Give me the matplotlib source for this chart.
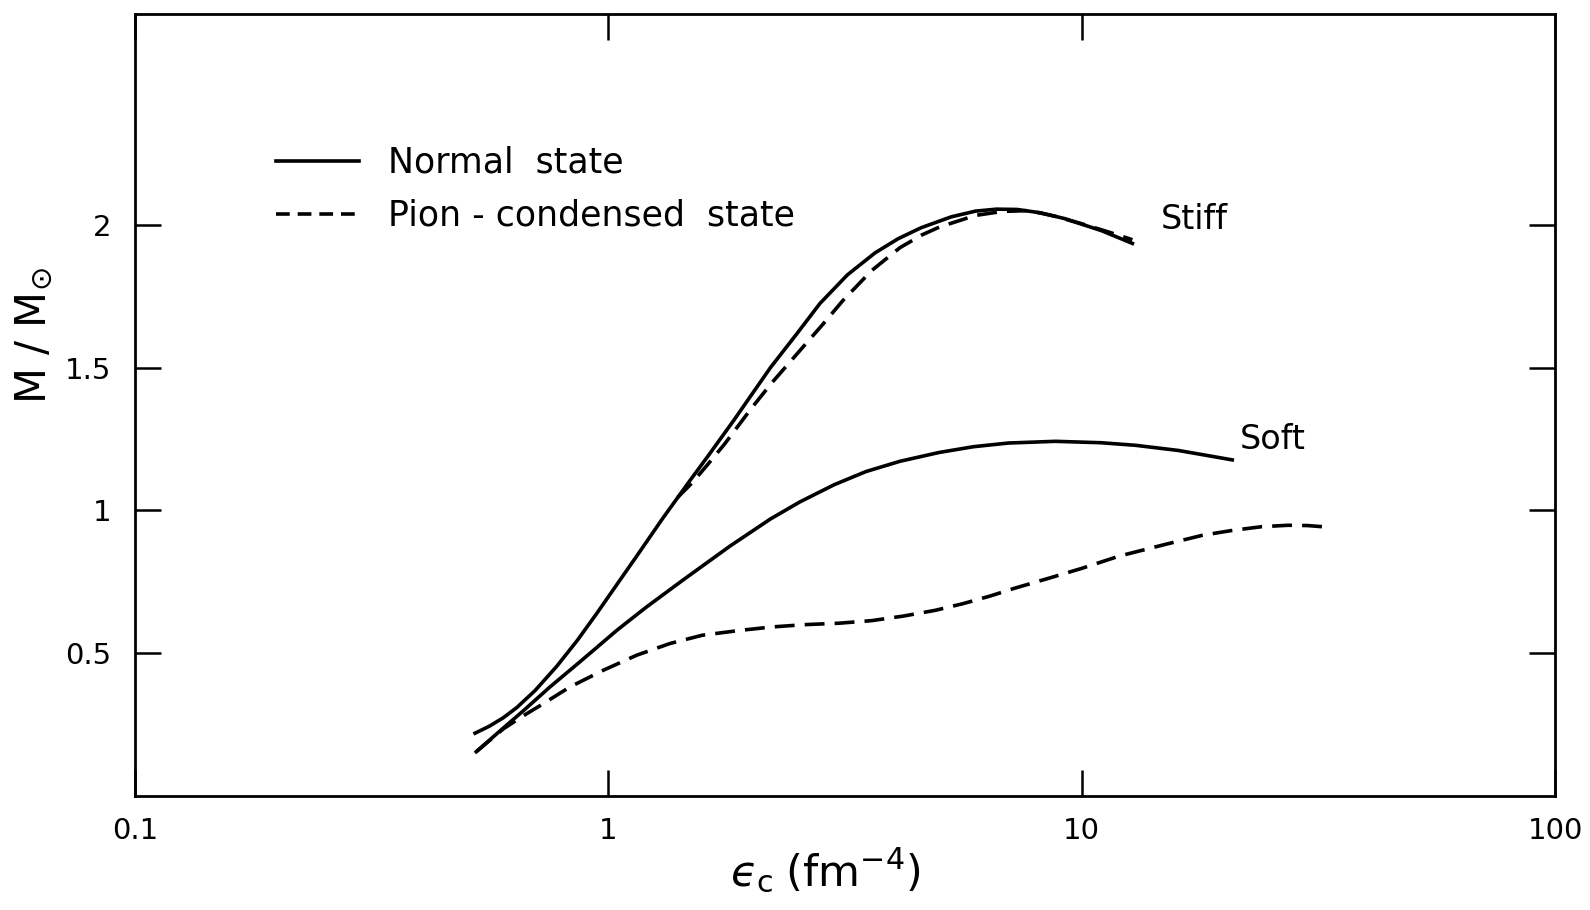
import numpy as np
import matplotlib
matplotlib.use("Agg")
import matplotlib.pyplot as plt
from matplotlib.lines import Line2D

plt.rcParams['font.family'] = ['DejaVu Sans']
plt.rcParams['mathtext.fontset'] = 'dejavusans'

# stiff equation of state, normal state
stiff_normal_x = [0.523, 0.56, 0.6, 0.641, 0.7, 0.778, 0.86, 0.945, 1.05, 1.148, 1.3, 1.488,
                  1.62, 1.84, 2.2, 2.5, 2.8, 3.2, 3.66, 4.1, 4.58, 5.3, 5.96, 6.6, 7.3,
                  8.2, 9.2, 11.0, 12.8]
stiff_normal_y = [0.22, 0.244, 0.274, 0.31, 0.369, 0.454, 0.545, 0.639, 0.748, 0.84, 0.97,
                  1.105, 1.188, 1.315, 1.5, 1.618, 1.725, 1.825, 1.902, 1.952, 1.99, 2.028,
                  2.048, 2.055, 2.054, 2.042, 2.022, 1.98, 1.935]

# stiff, pion-condensed state
stiff_pion_x = [1.4, 1.5, 1.62, 1.765, 2.0, 2.21, 2.54, 2.85, 3.13, 3.6, 4.13, 4.6, 5.0,
                5.96, 6.8, 7.73, 8.8, 10.0, 11.4, 12.8]
stiff_pion_y = [1.045, 1.095, 1.16, 1.235, 1.355, 1.445, 1.56, 1.655, 1.735, 1.84, 1.92,
                1.965, 1.992, 2.033, 2.047, 2.05, 2.03, 2.004, 1.975, 1.948]

# soft equation of state, normal state
soft_normal_x = [0.526, 0.6, 0.66, 0.753, 0.85, 0.93, 1.042, 1.2, 1.44, 1.807, 2.2, 2.54,
                 3.0, 3.5, 4.13, 5.0, 5.9, 7.0, 8.8, 11.0, 13.0, 16.0, 20.8]
soft_normal_y = [0.155, 0.238, 0.297, 0.382, 0.455, 0.51, 0.58, 0.66, 0.757, 0.875, 0.97,
                 1.03, 1.09, 1.136, 1.172, 1.203, 1.223, 1.236, 1.242, 1.237, 1.228, 1.21,
                 1.177]

# soft, pion-condensed state
soft_pion_x = [0.526, 0.6, 0.66, 0.72, 0.83, 0.975, 1.148, 1.35, 1.58, 1.9, 2.22, 2.6,
               3.07, 3.6, 4.2, 4.9, 5.6, 6.4, 7.2, 8.5, 10.0, 12.0, 15.1, 18.0, 20.8, 24.0,
               27.3, 30.0, 32.8]
soft_pion_y = [0.155, 0.235, 0.28, 0.318, 0.382, 0.44, 0.493, 0.534, 0.563, 0.58, 0.592,
               0.6, 0.605, 0.614, 0.63, 0.65, 0.673, 0.7, 0.727, 0.762, 0.797, 0.84, 0.882,
               0.913, 0.93, 0.943, 0.948, 0.947, 0.942]

xticks = [0.1, 1, 10, 100]
xtick_labels = ['0.1', '1', '10', '100']
yticks = [0.5, 1, 1.5, 2]
ytick_labels = ['0.5', '1', '1.5', '2']

fig = plt.figure(figsize=(15.9, 9.1), dpi=100)
ax = fig.add_axes([0.0849, 0.1253, 0.8931, 0.8598])

lw = 2.6
dash = (0, (5.5, 2.8))
ax.plot(stiff_normal_x, stiff_normal_y, color='black', lw=lw)
ax.plot(stiff_pion_x, stiff_pion_y, color='black', lw=lw, linestyle=dash)
ax.plot(soft_normal_x, soft_normal_y, color='black', lw=lw)
ax.plot(soft_pion_x, soft_pion_y, color='black', lw=lw, linestyle=dash)

ax.set_xscale('log')
ax.set_xlim(0.1, 100)
ax.set_ylim(0, 2.74)
ax.set_xticks(xticks)
ax.set_xticklabels(xtick_labels)
ax.set_yticks(yticks)
ax.set_yticklabels(ytick_labels)
ax.minorticks_off()
ax.tick_params(direction='in', length=19, width=1.8, labelsize=21,
               top=True, right=True)
ax.tick_params(axis='x', pad=15)
ax.tick_params(axis='y', pad=17)
for s in ax.spines.values():
    s.set_linewidth(2.0)

ax.text(14.7, 2.02, 'Stiff', fontsize=24, ha='left', va='center')
ax.text(21.6, 1.248, 'Soft', fontsize=24, ha='left', va='center')

ax.set_xlabel(r'$ϵ_{\mathrm{c}}\;(\mathrm{fm}^{-4})$', fontsize=31)
ax.xaxis.set_label_coords(0.486, -0.064)
ax.set_ylabel(r'$\mathrm{M\ /\ M_{\odot}}$', fontsize=30)
ax.yaxis.set_label_coords(-0.056, 0.588)

handles = [Line2D([], [], color='black', lw=lw),
           Line2D([], [], color='black', lw=lw, linestyle=(0, (3.8, 2.2)))]
labels = ['Normal  state', 'Pion - condensed  state']
ax.legend(handles, labels, loc='upper left', bbox_to_anchor=(0.099, 0.831), frameon=False,
          fontsize=25, handlelength=2.4, handletextpad=0.85, labelspacing=0.55,
          borderpad=0, borderaxespad=0)

fig.savefig('out.png', dpi=100)
